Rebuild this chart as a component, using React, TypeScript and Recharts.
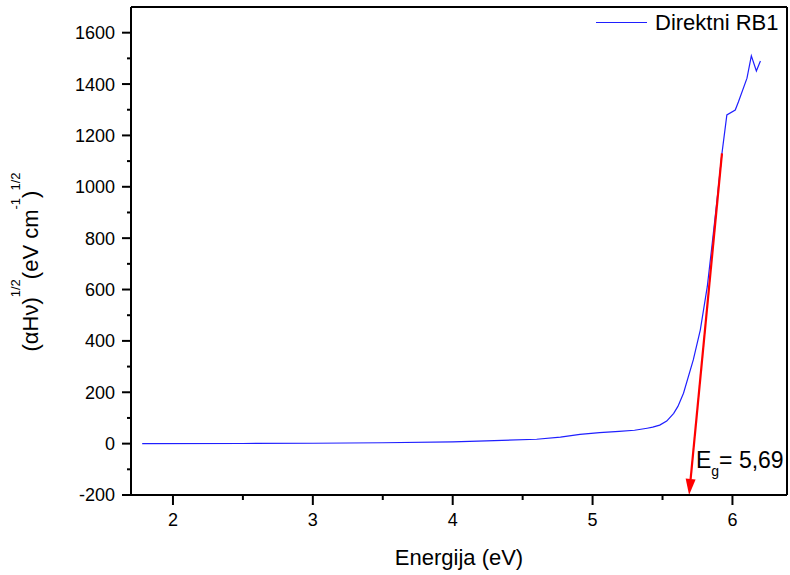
import { LineChart, Line, XAxis, YAxis, ReferenceLine, ReferenceDot, Label } from 'recharts'

// photon energy (eV) and (alpha h nu)^1/2
const energy = [
  1.78, 2.5, 3.0, 3.5, 4.0, 4.24, 4.6, 4.77, 4.91, 5.05, 5.19, 5.3, 5.39, 5.43, 5.48,
  5.53, 5.58, 5.61, 5.65, 5.72, 5.77, 5.82, 5.85, 5.89, 5.925, 5.96, 6.02, 6.043, 6.104,
  6.135, 6.171, 6.2,
]
const signal = [
  0, 0.5, 1.5, 3.5, 7, 11, 17, 25, 36, 43, 48, 52, 60, 64, 72,
  88, 118, 145, 196, 326, 442, 611, 754, 949, 1130, 1280, 1299, 1331, 1423,
  1510, 1451, 1490,
]

// linear fit drawn as the red arrow
const fitEnergy = [5.925, 5.69]
const fitSignal = [1130, -200]
const gapText = 'E'
const gapSub = 'g'
const gapValue = '= 5,69'

const xTicks = [2, 2.5, 3, 3.5, 4, 4.5, 5, 5.5, 6]
const yTicks = [-200, -100, 0, 100, 200, 300, 400, 500, 600, 700, 800, 900, 1000, 1100, 1200, 1300, 1400, 1500, 1600]
const seriesName = 'Direktni RB1'

const xDomain = [1.7, 6.39]
const yDomain = [-200, 1700]

const data = energy.map((e, i) => ({ e, v: signal[i] }))

const FONT = '"Liberation Sans", Arial, sans-serif'
const BLUE = '#1f1fff'

function XTick({ x, y, payload }: any) {
  const major = Number.isInteger(payload.value)
  return (
    <g>
      <line x1={x} x2={x} y1={y} y2={y + (major ? 10 : 5)} stroke="#000" strokeWidth={2} />
      {major && (
        <text x={x} y={y + 31} textAnchor="middle" fontSize={18} fontFamily={FONT} fill="#000">
          {payload.value}
        </text>
      )}
    </g>
  )
}

function YTick({ x, y, payload }: any) {
  const major = payload.value % 200 === 0
  return (
    <g>
      <line x1={x - (major ? 9 : 4)} x2={x} y1={y} y2={y} stroke="#000" strokeWidth={2} />
      {major && (
        <text x={x - 16} y={y} dy="0.36em" textAnchor="end" fontSize={18} fontFamily={FONT} fill="#000">
          {payload.value}
        </text>
      )}
    </g>
  )
}

function XTitle({ viewBox }: any) {
  const { x, y, width } = viewBox
  return (
    <text x={x + width / 2} y={y + 70} textAnchor="middle" fontSize={22} fontFamily={FONT} fill="#000">
      Energija (eV)
    </text>
  )
}

function YTitle({ viewBox }: any) {
  const { y, height } = viewBox
  const cx = 38
  const cy = y + height / 2 + 11
  return (
    <text
      transform={`translate(${cx},${cy}) rotate(-90)`}
      textAnchor="middle"
      fontSize={22}
      fontFamily={FONT}
      fill="#000"
    >
      <tspan>(αHν)</tspan>
      <tspan dy={-18} fontSize={13}>1/2</tspan>
      <tspan dy={18}>(eV cm</tspan>
      <tspan dy={-18} fontSize={13}>-1</tspan>
      <tspan dy={18}>)</tspan>
      <tspan dy={-18} fontSize={13}>1/2</tspan>
    </text>
  )
}

function Arrow(props: any) {
  const { x1, y1, x2, y2 } = props
  const dx = x2 - x1
  const dy = y2 - y1
  const len = Math.sqrt(dx * dx + dy * dy)
  const ux = dx / len
  const uy = dy / len
  const head = 16
  const half = 5
  const bx = x2 - ux * head
  const by = y2 - uy * head
  return (
    <g>
      <line x1={x1} y1={y1} x2={bx} y2={by} stroke="#ff0000" strokeWidth={2.2} />
      <polygon
        points={`${x2},${y2} ${bx - uy * half},${by + ux * half} ${bx + uy * half},${by - ux * half}`}
        fill="#ff0000"
      />
    </g>
  )
}

function GapLabel({ cx, cy }: any) {
  return (
    <text x={cx} y={cy} fontSize={23} fontFamily={FONT} fill="#000">
      <tspan>{gapText}</tspan>
      <tspan dy={8} fontSize={14}>{gapSub}</tspan>
      <tspan dy={-8}>{gapValue}</tspan>
    </text>
  )
}

function LegendBox() {
  return (
    <g>
      <line x1={596} x2={647} y1={22.5} y2={22.5} stroke={BLUE} strokeWidth={1.2} />
      <text x={655} y={30} fontSize={22} fontFamily={FONT} fill="#000">
        {seriesName}
      </text>
    </g>
  )
}

export default function App() {
  return (
    <div style={{ position: 'absolute', left: 0, top: 0, width: 790, height: 575, background: '#fff' }}>
      <LineChart width={790} height={575} data={data} margin={{ top: 7, right: 3, bottom: 0, left: 0 }}>
        <XAxis
          dataKey="e"
          type="number"
          domain={xDomain}
          ticks={xTicks}
          interval={0}
          allowDataOverflow
          height={80}
          tickSize={0}
          tickMargin={0}
          tickLine={false}
          tick={<XTick />}
          axisLine={{ stroke: '#000', strokeWidth: 2 }}
        >
          <Label content={<XTitle />} />
        </XAxis>
        <YAxis
          type="number"
          domain={yDomain}
          ticks={yTicks}
          interval={0}
          allowDataOverflow
          width={131}
          tickSize={0}
          tickMargin={0}
          tickLine={false}
          tick={<YTick />}
          axisLine={{ stroke: '#000', strokeWidth: 2 }}
        >
          <Label content={<YTitle />} />
        </YAxis>
        <ReferenceLine y={yDomain[1]} stroke="#000" strokeWidth={2} ifOverflow="visible" />
        <ReferenceLine x={xDomain[1]} stroke="#000" strokeWidth={2} ifOverflow="visible" />
        <Line
          type="linear"
          dataKey="v"
          stroke={BLUE}
          strokeWidth={1.2}
          dot={false}
          activeDot={false}
          isAnimationActive={false}
        />
        <ReferenceLine
          segment={[
            { x: fitEnergy[0], y: fitSignal[0] },
            { x: fitEnergy[1], y: fitSignal[1] },
          ]}
          ifOverflow="visible"
          shape={<Arrow />}
        />
        <ReferenceDot x={5.739} y={-95} ifOverflow="visible" shape={<GapLabel />} />
        <LegendBox />
      </LineChart>
    </div>
  )
}
